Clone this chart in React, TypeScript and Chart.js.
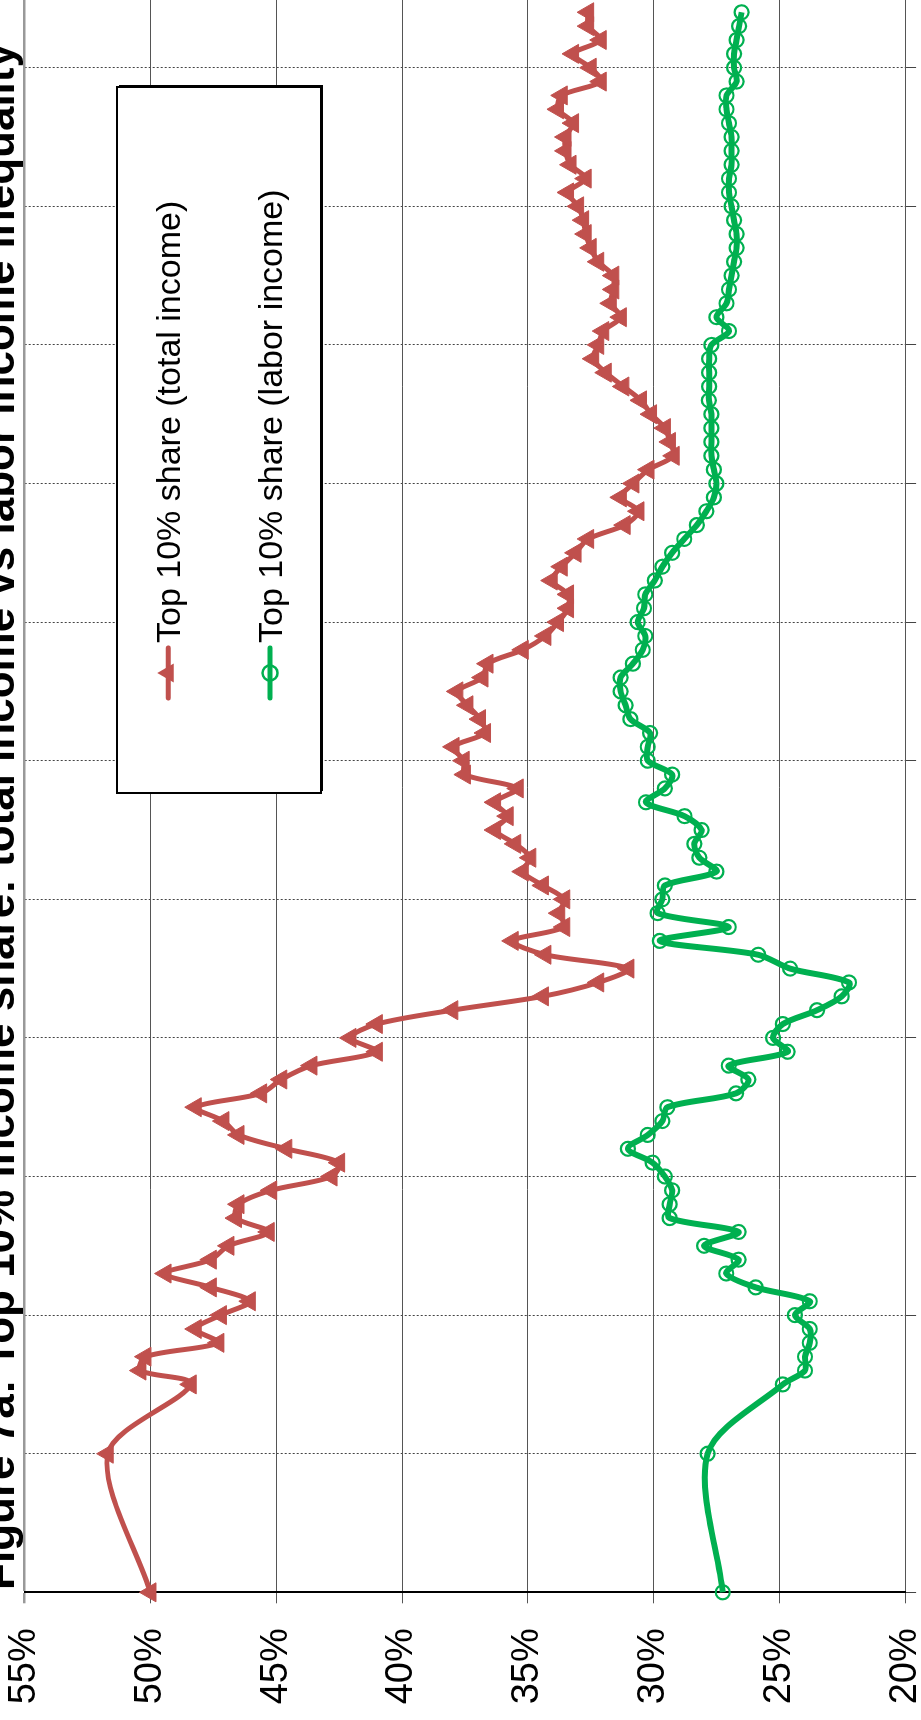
import React, { useEffect, useRef } from "react";
import { Chart, registerables } from "chart.js";

Chart.register(...registerables);

// ---------- data ----------
const years = [
  1900, 1910, 1915, 1916, 1917, 1918, 1919, 1920, 1921, 1922, 1923, 1924,
  1925, 1926, 1927, 1928, 1929, 1930, 1931, 1932, 1933, 1934, 1935, 1936,
  1937, 1938, 1939, 1940, 1941, 1942, 1943, 1944, 1945, 1946, 1947, 1948,
  1949, 1950, 1951, 1952, 1953, 1954, 1955, 1956, 1957, 1958, 1959, 1960,
  1961, 1962, 1963, 1964, 1965, 1966, 1967, 1968, 1969, 1970, 1971, 1972,
  1973, 1974, 1975, 1976, 1977, 1978, 1979, 1980, 1981, 1982, 1983, 1984,
  1985, 1986, 1987, 1988, 1989, 1990, 1991, 1992, 1993, 1994, 1995, 1996,
  1997, 1998, 1999, 2000, 2001, 2002, 2003, 2004, 2005, 2006, 2007, 2008,
  2009, 2010, 2011, 2012, 2013, 2014,
];

const totalIncomeShare = [
  50.0, 51.7, 48.4, 50.4, 50.2, 47.3, 48.2, 47.2, 46.05, 47.6, 49.4, 47.6,
  46.9, 45.3, 46.6, 46.5, 45.2, 42.8, 42.5, 44.6, 46.5, 47.1, 48.2, 45.6,
  44.8, 43.6, 41.0, 42.05, 41.0, 38.0, 34.4, 32.2, 31.0, 34.3, 35.6, 33.55,
  33.75, 33.55, 34.4, 35.2, 34.9, 35.5, 36.3, 35.8, 36.3, 35.4, 37.5, 37.55,
  37.95, 36.7, 36.9, 37.4, 37.8, 36.8, 36.6, 35.2, 34.3, 33.8, 33.4, 33.4,
  34.05, 33.65, 33.1, 32.6, 31.15, 30.6, 31.3, 30.8, 30.2, 29.2, 29.35, 29.55,
  30.1, 30.5, 31.2, 31.9, 32.4, 32.2, 32.0, 31.3, 31.7, 31.6, 31.6, 32.2,
  32.5, 32.7, 32.8, 33.0, 33.4, 32.7, 33.3, 33.5, 33.5, 33.2, 33.8, 33.65,
  32.1, 32.5, 33.2, 32.1, 32.6, 32.6,
];

const laborIncomeShare = [
  27.25, 27.85, 24.86, 23.98, 23.98, 23.79, 23.79, 24.38, 23.79, 25.94, 27.11, 26.62,
  27.99, 26.62, 29.36, 29.36, 29.26, 29.55, 30.04, 31.02, 30.23, 29.65, 29.45, 26.72,
  26.23, 27.01, 24.67, 25.25, 24.86, 23.5, 22.52, 22.23, 24.57, 25.84, 29.75, 27.01,
  29.84, 29.65, 29.55, 27.5, 28.18, 28.38, 28.09, 28.77, 30.3, 29.55, 29.26, 30.23,
  30.23, 30.14, 30.92, 31.11, 31.31, 31.31, 30.82, 30.43, 30.33, 30.63, 30.38, 30.33,
  29.95, 29.65, 29.26, 28.78, 28.28, 27.9, 27.6, 27.5, 27.6, 27.7, 27.7, 27.7,
  27.7, 27.8, 27.79, 27.79, 27.79, 27.7, 27.0, 27.5, 27.1, 27.0, 26.9, 26.8,
  26.7, 26.7, 26.8, 26.9, 27.0, 27.0, 26.9, 26.9, 26.9, 27.0, 27.1, 27.1,
  26.7, 26.8, 26.8, 26.7, 26.6, 26.5,
];

const valueTicks = [20, 25, 30, 35, 40, 45, 50, 55];
const yearGridTicks = [1900, 1910, 1920, 1930, 1940, 1950, 1960, 1970, 1980, 1990, 2000, 2010];
const chartTitle =
  "Figure 7a: Top 10% income share: total income vs labor income inequality";
const seriesLabels = ["Top 10% share (total income)", "Top 10% share (labor income)"];
const seriesColors = ["#C0504D", "#00B050"];

// ---------- layout (canvas drawn in the un-rotated frame) ----------
const CW = 1760;
const CH = 960;
const FONT = "'Liberation Sans', Arial, Helvetica, sans-serif";

function drawTriangle(ctx: CanvasRenderingContext2D, x: number, y: number, r: number) {
  ctx.beginPath();
  ctx.moveTo(x, y - r);
  ctx.lineTo(x + 0.866 * r, y + 0.5 * r);
  ctx.lineTo(x - 0.866 * r, y + 0.5 * r);
  ctx.closePath();
}

export default function App() {
  const ref = useRef<HTMLCanvasElement>(null);

  useEffect(() => {
    const canvas = ref.current;
    if (!canvas) return;

    const titlePlugin = {
      id: "rotTitle",
      afterDraw(chart: any) {
        const ctx = chart.ctx as CanvasRenderingContext2D;
        ctx.save();
        ctx.font = `bold 44px ${FONT}`;
        ctx.fillStyle = "#000";
        ctx.textAlign = "center";
        ctx.textBaseline = "alphabetic";
        ctx.fillText(chartTitle, 903.5, 44);
        ctx.restore();
      },
    };

    const legendPlugin = {
      id: "boxLegend",
      afterDraw(chart: any) {
        const ctx = chart.ctx as CanvasRenderingContext2D;
        const bx = 927, by = 147, bw = 706, bh = 204;
        ctx.save();
        ctx.fillStyle = "#000";
        ctx.fillRect(bx + 2, by + 2, bw, bh);
        ctx.fillStyle = "#fff";
        ctx.fillRect(bx, by, bw, bh);
        ctx.strokeStyle = "#000";
        ctx.lineWidth = 2;
        ctx.strokeRect(bx, by, bw, bh);

        const rows = [198.3, 300];
        rows.forEach((cy, i) => {
          const col = seriesColors[i];
          ctx.strokeStyle = col;
          ctx.lineWidth = 5;
          ctx.lineCap = "round";
          ctx.beginPath();
          ctx.moveTo(1022, cy);
          ctx.lineTo(1072, cy);
          ctx.stroke();
          if (i === 0) {
            ctx.fillStyle = col;
            drawTriangle(ctx, 1047, cy, 11);
            ctx.fill();
          } else {
            ctx.lineWidth = 2.5;
            ctx.beginPath();
            ctx.arc(1047, cy, 7.5, 0, Math.PI * 2);
            ctx.stroke();
          }
          ctx.fillStyle = "#000";
          ctx.font = `34px ${FONT}`;
          ctx.textAlign = "left";
          ctx.textBaseline = "alphabetic";
          ctx.fillText(seriesLabels[i], 1077, cy + 11.7);
        });
        ctx.restore();
      },
    };

    const chart = new Chart(canvas, {
      type: "line",
      data: {
        datasets: [
          {
            label: seriesLabels[0],
            data: years.map((yr, i) => ({ x: yr, y: totalIncomeShare[i] })),
            borderColor: seriesColors[0],
            backgroundColor: seriesColors[0],
            borderWidth: 5,
            tension: 0.3,
            fill: false,
            pointStyle: "triangle",
            pointRadius: 11,
            pointBorderWidth: 1,
            pointBackgroundColor: seriesColors[0],
            pointBorderColor: seriesColors[0],
            clip: false,
          } as any,
          {
            label: seriesLabels[1],
            data: years.map((yr, i) => ({ x: yr, y: laborIncomeShare[i] })),
            borderColor: seriesColors[1],
            backgroundColor: "rgba(0,0,0,0)",
            borderWidth: 6,
            tension: 0.3,
            fill: false,
            pointStyle: "circle",
            pointRadius: 7,
            pointBorderWidth: 2.2,
            pointBackgroundColor: "rgba(0,0,0,0)",
            pointBorderColor: seriesColors[1],
            clip: false,
          } as any,
        ],
      },
      options: {
        responsive: false,
        maintainAspectRatio: false,
        animation: false,
        devicePixelRatio: 1,
        layout: { padding: { top: 54.7, left: 0, right: 24.54, bottom: 0 } },
        plugins: {
          legend: { display: false },
          title: { display: false },
          tooltip: { enabled: false },
        },
        scales: {
          x: {
            type: "linear",
            min: 1900,
            max: 2016,
            afterBuildTicks: (s: any) => {
              s.ticks = yearGridTicks.map((v) => ({ value: v }));
            },
            afterFit: (s: any) => {
              s.height = 24.9;
              s.paddingLeft = 0;
              s.paddingRight = 0;
            },
            ticks: { display: false },
            grid: { color: "#444", lineWidth: 1, tickLength: 11, drawTicks: true },
            border: { display: true, color: "#555", width: 1, dash: [2, 2] },
          },
          y: {
            type: "linear",
            min: 20,
            max: 55,
            afterBuildTicks: (s: any) => {
              s.ticks = valueTicks.map((v) => ({ value: v }));
            },
            afterFit: (s: any) => {
              s.width = 127.7;
              s.paddingTop = 0;
              s.paddingBottom = 0;
            },
            ticks: {
              callback: (v: any) => `${v}%`,
              color: "#000",
              font: { family: FONT, size: 38 },
              padding: 25,
            },
            grid: {
              color: (c: any) => (c.tick && c.tick.value === 55 ? "#999" : "#555"),
              lineWidth: (c: any) => (c.tick && c.tick.value === 55 ? 2.5 : 1),
              tickLength: 11,
              drawTicks: true,
            },
            border: { display: true, color: "#000", width: 2 },
          },
        },
      } as any,
      plugins: [titlePlugin, legendPlugin],
    });

    return () => chart.destroy();
  }, []);

  return (
    <div
      style={{
        position: "fixed",
        left: 0,
        top: 0,
        width: 921,
        height: 1720,
        overflow: "hidden",
        background: "#fff",
      }}
    >
      <div
        style={{
          position: "absolute",
          left: 0,
          top: 0,
          width: CW,
          height: CH,
          transformOrigin: "0 0",
          transform: "translate(-30px, 1720px) rotate(-90deg)",
        }}
      >
        <canvas ref={ref} width={CW} height={CH} style={{ width: CW, height: CH, display: "block" }} />
      </div>
    </div>
  );
}
